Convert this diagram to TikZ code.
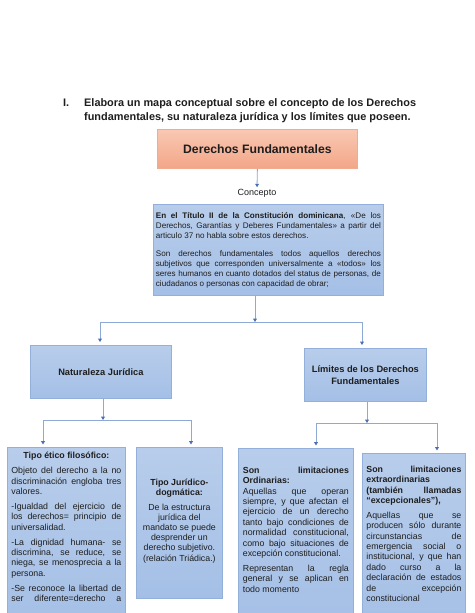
\documentclass[tikz,border=0pt]{standalone}
\usepackage{fontspec}
\setmainfont{Liberation Sans}
\usetikzlibrary{arrows.meta}
\definecolor{txt}{HTML}{1E1E1E}
\definecolor{salTop}{HTML}{F9C8B3}
\definecolor{salBot}{HTML}{F3A687}
\definecolor{salLine}{HTML}{F1AB8E}
\definecolor{bluTop}{HTML}{B8CDEB}
\definecolor{bluBot}{HTML}{A4BFE6}
\definecolor{bluLine}{HTML}{93B0DB}
\definecolor{connCol}{HTML}{8EA9D6}
\definecolor{tipCol}{HTML}{4A6FB6}
\newcommand{\mybodyfont}[2]{\fontsize{#1}{#2}\selectfont\hyphenpenalty=10000\exhyphenpenalty=10000\tolerance=10000\hbadness=10000\setlength{\parskip}{4.5pt}\color{txt}}
\tikzset{
  conn/.style={draw=connCol, line width=0.8pt},
  tip/.style={-{Triangle[width=3.8pt,length=3.4pt,color=tipCol]}},
  bluebox/.style={draw=bluLine, line width=0.8pt, top color=bluTop, bottom color=bluBot, inner sep=0pt, anchor=north west},
  salbox/.style={draw=salLine, line width=0.8pt, top color=salTop, bottom color=salBot, inner sep=0pt, anchor=north west},
  plain/.style={inner sep=0pt, text=txt}
}
\begin{document}
\begin{tikzpicture}[x=1pt,y=-1pt]
\useasboundingbox (0,0) rectangle (474,613);
\clip (0,0) rectangle (474,613);
\fill[white] (0,0) rectangle (474,613);

% title
\node[plain, anchor=base west] (tnum) at (63,106) {\fontsize{10.9}{13}\selectfont\bfseries I.};
\node[plain, anchor=base west] (t1) at (84,106) {\fontsize{10.9}{13}\selectfont\bfseries Elabora un mapa conceptual sobre el concepto de los Derechos};
\node[plain, anchor=base west] (t2) at (84,120) {\fontsize{10.9}{13}\selectfont\bfseries fundamentales, su naturaleza jurídica y los límites que poseen.};

% main box
\node[salbox, minimum width=200pt, minimum height=39pt] (df) at (157,129) {\fontsize{12.2}{14}\selectfont\bfseries\color{txt}Derechos Fundamentales};
\node[plain] (concepto) at (257,193) {\fontsize{9}{10}\selectfont Concepto};
\draw[conn, tip] (df.south) -- ([yshift=1.5pt]concepto.north);

% concept box
\node[bluebox, minimum width=230pt, minimum height=91pt] (concept) at (153,204) {%
\begin{minipage}{225pt}\mybodyfont{8.1}{10}\setlength{\parskip}{8pt}
\textbf{En el Título II de la Constitución dominicana}, «De los\linebreak Derechos, Garantías y Deberes Fundamentales» a partir del\linebreak articulo 37 no habla sobre estos derechos.\par
Son derechos fundamentales todos aquellos derechos\linebreak subjetivos que corresponden universalmente a «todos» los\linebreak seres humanos en cuanto dotados del status de personas, de\linebreak ciudadanos o personas con capacidad de obrar;\par
\end{minipage}};

% first split
\coordinate (j1) at (255,322);
\coordinate (j1l) at (100,322);
\coordinate (j1r) at (362,322);
\draw[conn, tip] (concept.south -| j1) -- (j1);
\draw[conn] (j1l) -- (j1r);

\node[bluebox, minimum width=141pt, minimum height=53pt, font=\fontsize{9.3}{11}\selectfont\bfseries, text=txt] (nat) at (30,345) {Naturaleza Jurídica};
\node[bluebox, minimum width=122pt, minimum height=53pt, align=center, font=\fontsize{9.3}{12.5}\selectfont\bfseries, text=txt] (lim) at (304,348) {Límites de los Derechos\\Fundamentales};
\draw[conn, tip] (j1l) -- ([yshift=3pt]nat.north -| j1l);
\draw[conn, tip] (j1r) -- ([yshift=3pt]lim.north -| j1r);

% second split (left)
\coordinate (j2) at (103,420);
\coordinate (j2l) at (43,420);
\coordinate (j2r) at (191,420);
\draw[conn, tip] (nat.south -| j2) -- (j2);
\draw[conn] (j2l) -- (j2r);

% second split (right)
\coordinate (j3) at (367,423);
\coordinate (j3l) at (316,423);
\coordinate (j3r) at (437,423);
\draw[conn, tip] (lim.south -| j3) -- (j3);
\draw[conn] (j3l) -- (j3r);

% bottom boxes
\node[bluebox, minimum width=118pt, minimum height=180pt] (etico) at (7,447) {%
\begin{minipage}[t][180pt][t]{110pt}\mybodyfont{8.8}{10.4}
\vspace*{5pt}
{\centering\bfseries Tipo ético filosófico:\par}
Objeto del derecho a la no\linebreak discriminación engloba tres\linebreak valores.\par
-Igualdad del ejercicio de\linebreak los derechos= principio de\linebreak universalidad.\par
-La dignidad humana- se\linebreak discrimina, se reduce, se\linebreak niega, se menosprecia a la\linebreak persona.\par
-Se reconoce la libertad de\linebreak ser diferente=derecho a{\parfillskip=0pt\par}
\vfill
\end{minipage}};

\node[bluebox, minimum width=86pt, minimum height=151pt] (jur) at (136,447) {%
\begin{minipage}{80pt}\mybodyfont{8.8}{10.2}\centering
{\bfseries Tipo Jurídico-\\dogmática:\par}
De la estructura\\ jurídica del\\ mandato se puede\\ desprender un\\ derecho subjetivo.\\ (relación Triádica.)\par
\vspace*{4pt}
\end{minipage}};

\node[bluebox, minimum width=115pt, minimum height=180pt] (ord) at (238,448) {%
\begin{minipage}[t][180pt][t]{106pt}\mybodyfont{8.8}{10.4}
\vspace*{18.5pt}
\textbf{Son limitaciones}\linebreak \textbf{Ordinarias:}\\
Aquellas que operan\linebreak siempre, y que afectan el\linebreak ejercicio de un derecho\linebreak tanto bajo condiciones de\linebreak normalidad\ \ constitucional,\linebreak como bajo situaciones de\linebreak excepción constitucional.\par
Representan la regla\linebreak general y se aplican en\linebreak todo momento\par
\vfill
\end{minipage}};

\node[bluebox, minimum width=103pt, minimum height=180pt] (ext) at (362,453) {%
\begin{minipage}[t][180pt][t]{95pt}\mybodyfont{8.8}{10.4}
\vspace*{12.5pt}
\textbf{Son limitaciones}\linebreak \textbf{extraordinarias}\\ \textbf{(también llamadas}\linebreak \textbf{“excepcionales”),}\par
Aquellas que se\linebreak producen sólo durante\linebreak circunstancias de\linebreak emergencia social o\linebreak institucional, y que han\linebreak dado curso a la\linebreak declaración de estados\linebreak de excepción\linebreak constitucional\par
\vfill
\end{minipage}};

\draw[conn, tip] (j2l) -- ([yshift=2.5pt]etico.north -| j2l);
\draw[conn, tip] (j2r) -- ([yshift=2.5pt]jur.north -| j2r);
\draw[conn, tip] (j3l) -- ([yshift=2.5pt]ord.north -| j3l);
\draw[conn, tip] (j3r) -- ([yshift=2.5pt]ext.north -| j3r);
\end{tikzpicture}
\end{document}
